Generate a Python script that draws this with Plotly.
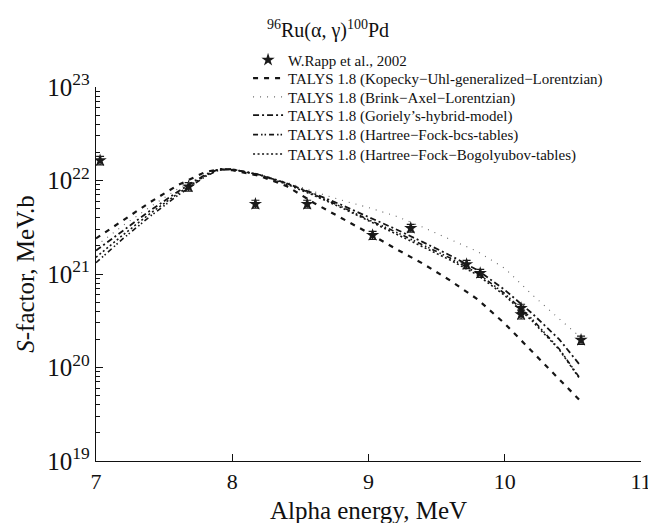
import plotly.graph_objects as go

# ---- data ----
energy_grid = [7.0, 7.2, 7.4, 7.6, 7.8, 7.9, 8.0, 8.2, 8.4, 8.6, 8.8, 9.0, 9.2, 9.4, 9.6, 9.8, 10.0, 10.2, 10.4, 10.55]

kopecky = [2.40e21, 3.80e21, 5.89e21, 8.91e21, 1.23e22, 1.32e22, 1.29e22, 1.12e22, 8.71e21, 5.75e21,
           3.98e21, 2.75e21, 1.86e21, 1.29e21, 8.51e20, 5.37e20, 2.95e20, 1.48e20, 7.41e19, 4.47e19]
brink = [2.00e21, 3.31e21, 5.25e21, 8.13e21, 1.17e22, 1.32e22, 1.32e22, 1.17e22, 9.55e21, 7.59e21,
         6.17e21, 5.13e21, 4.17e21, 3.16e21, 2.34e21, 1.74e21, 1.15e21, 6.03e20, 3.31e20, 2.14e20]
goriely = [1.78e21, 2.95e21, 4.79e21, 7.59e21, 1.15e22, 1.32e22, 1.32e22, 1.15e22, 9.33e21, 7.24e21,
           5.50e21, 4.07e21, 3.02e21, 2.19e21, 1.58e21, 1.10e21, 6.76e20, 3.80e20, 2.00e20, 1.07e20]
hf_bcs = [1.32e21, 2.40e21, 4.17e21, 6.92e21, 1.10e22, 1.29e22, 1.32e22, 1.15e22, 9.33e21, 7.08e21,
          5.25e21, 3.80e21, 2.82e21, 2.04e21, 1.48e21, 1.02e21, 6.17e20, 3.31e20, 1.58e20, 7.76e19]
hfb = [1.51e21, 2.63e21, 4.47e21, 7.24e21, 1.12e22, 1.32e22, 1.32e22, 1.15e22, 9.12e21, 6.92e21,
       5.13e21, 3.72e21, 2.69e21, 1.95e21, 1.41e21, 9.77e20, 5.89e20, 3.16e20, 1.55e20, 7.59e19]

exp_energy = [7.03, 7.68, 8.17, 8.55, 9.03, 9.31, 9.72, 9.82, 10.12, 10.12, 10.56]
exp_s = [1.64e22, 8.6e21, 5.6e21, 5.6e21, 2.6e21, 3.1e21, 1.27e21, 1.02e21, 4.3e20, 3.7e20, 1.97e20]
exp_err = [1.7e21, 9.0e20, 5.5e20, 5.5e20, 2.6e20, 3.0e20, 1.3e20, 1.0e20, 4.5e19, 4.0e19, 2.0e19]

x_ticks = [7, 8, 9, 10, 11]
y_ticks = [1e19, 1e20, 1e21, 1e22, 1e23]
y_ticktext = ["10<sup>19</sup>", "10<sup>20</sup>", "10<sup>21</sup>", "10<sup>22</sup>", "10<sup>23</sup>"]
minor_vals = [m * 10.0 ** d for d in range(19, 23) for m in range(2, 10)]

names = [
    "W.Rapp et al., 2002",
    "TALYS 1.8 (Kopecky\u2212Uhl-generalized\u2212Lorentzian)",
    "TALYS 1.8 (Brink\u2212Axel\u2212Lorentzian)",
    "TALYS 1.8 (Goriely\u2019s-hybrid-model)",
    "TALYS 1.8 (Hartree\u2212Fock-bcs-tables)",
    "TALYS 1.8 (Hartree\u2212Fock\u2212Bogolyubov-tables)",
]
legend_rows_y = [1.072, 1.023, 0.973, 0.924, 0.872, 0.820]

FONT = "Liberation Serif, Times New Roman, serif"

fig = go.Figure()
fig.add_trace(go.Scatter(
    x=exp_energy, y=exp_s, mode="markers", name=names[0], legend="legend",
    marker=dict(symbol="star", size=10, color="#1a1a1a"),
    error_y=dict(type="data", array=exp_err, visible=True, color="#1a1a1a", thickness=1.2, width=4),
))
styles = [
    (kopecky, dict(color="#151515", width=2.2, dash="5px,6px")),
    (brink, dict(color="#666", width=1.1, dash="1px,6px")),
    (goriely, dict(color="#151515", width=1.8, dash="6px,3px,2px,3px")),
    (hf_bcs, dict(color="#151515", width=1.6, dash="5px,3px,1.5px,2px,1.5px,3px")),
    (hfb, dict(color="#151515", width=1.6, dash="2px,2.5px")),
]
for i, ((vals, ln), nm) in enumerate(zip(styles, names[1:]), start=2):
    fig.add_trace(go.Scatter(x=energy_grid, y=vals, mode="lines", name=nm,
                             legend=f"legend{i}", line=ln))

legend_common = dict(x=0.279, xanchor="left", yanchor="middle", bgcolor="rgba(0,0,0,0)",
                     font=dict(size=15, family=FONT, color="#111"), itemwidth=30)
layout_legends = {}
for i, ypos in enumerate(legend_rows_y, start=1):
    key = "legend" if i == 1 else f"legend{i}"
    layout_legends[key] = dict(legend_common, y=ypos)

fig.update_layout(
    width=656, height=523,
    margin=dict(l=88, r=20, t=79, b=70),
    paper_bgcolor="white", plot_bgcolor="white",
    font=dict(family=FONT, color="#111"),
    showlegend=True,
    annotations=[dict(x=0.425, y=1.155, xref="paper", yref="paper", showarrow=False,
                      text="<sup>96</sup>Ru(\u03b1, \u03b3)<sup>100</sup>Pd",
                      font=dict(size=20, family=FONT, color="#111"),
                      xanchor="center", yanchor="middle")],
    **layout_legends,
)
fig.update_xaxes(
    range=[7, 11], tickvals=x_ticks, ticktext=[str(v) for v in x_ticks],
    showline=True, linecolor="#111", linewidth=1.3, mirror=False,
    ticks="inside", ticklen=7, tickcolor="#111", showgrid=False, zeroline=False,
    tickfont=dict(size=22, family=FONT, color="#111"),
    title=dict(text="Alpha energy, MeV", font=dict(size=25, family=FONT, color="#111"), standoff=8),
)
fig.update_yaxes(
    type="log", range=[19, 23], tickvals=y_ticks, ticktext=y_ticktext,
    showline=True, linecolor="#111", linewidth=1.3, mirror=False,
    ticks="inside", ticklen=7, tickcolor="#111", showgrid=False, zeroline=False,
    tickfont=dict(size=25, family=FONT, color="#111"),
    minor=dict(tickvals=minor_vals, ticks="inside", ticklen=4, tickcolor="#111", showgrid=False),
    title=dict(text="<i>S</i>-factor, MeV.b", font=dict(size=25, family=FONT, color="#111"), standoff=5),
)

fig.write_html("out.html")
